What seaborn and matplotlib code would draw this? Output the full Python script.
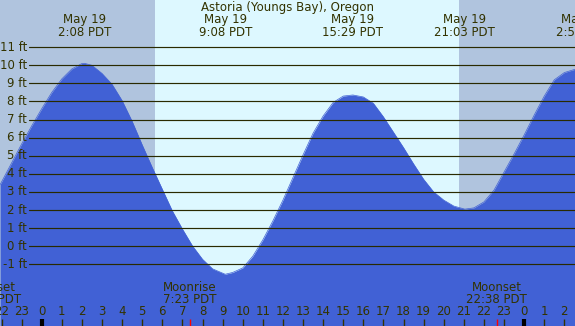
import numpy as np
import pandas as pd
import seaborn as sns
import matplotlib.pyplot as plt
import matplotlib.transforms as mtransforms

# Tide heights (ft), hours since midnight May 19 (PDT)
tide_hours = [-2.07, -2.0, -1.5, -1.0, -0.5, 0.0, 0.5, 1.0, 1.5, 2.0, 2.13,
              2.5, 3.0, 3.5, 4.0, 4.5, 5.0, 5.5, 6.0, 6.5, 7.0, 7.5, 8.0, 8.5, 9.13,
              9.5, 10.0, 10.5, 11.0, 11.5, 12.0, 12.5, 13.0, 13.5, 14.0, 14.5, 15.0, 15.48,
              16.0, 16.5, 17.0, 17.5, 18.0, 18.5, 19.0, 19.5, 20.0, 20.5, 21.05,
              21.5, 22.0, 22.5, 23.0, 23.5, 24.0, 24.5, 25.0, 25.5, 26.0, 26.53]
tide_ft = [3.4, 3.55, 4.6, 5.65, 6.65, 7.6, 8.5, 9.25, 9.8, 10.1, 10.11,
           10.0, 9.55, 8.95, 8.05, 6.9, 5.6, 4.35, 3.15, 1.95, 0.95, 0.02, -0.72, -1.25, -1.55,
           -1.45, -1.2, -0.55, 0.35, 1.4, 2.55, 3.8, 5.05, 6.25, 7.2, 7.95, 8.3, 8.36,
           8.25, 7.9, 7.15, 6.3, 5.45, 4.55, 3.7, 3.0, 2.55, 2.22, 2.05,
           2.12, 2.45, 3.1, 4.1, 5.1, 6.15, 7.25, 8.3, 9.2, 9.6, 9.78]

# High / low tide labels along the top
extreme_hours = [2.13, 9.13, 15.48, 21.05, 26.9]
extreme_dates = ["May 19", "May 19", "May 19", "May 19", "May 20"]
extreme_times = ["2:08 PDT", "9:08 PDT", "15:29 PDT", "21:03 PDT", "2:54 PDT"]

# Moon events along the bottom
moon_hours = [-2.52, 7.38, 22.63]
moon_names = ["Moonset", "Moonrise", "Moonset"]
moon_times = ["21:29 PDT", "7:23 PDT", "22:38 PDT"]

sunrise, sunset = 5.64, 20.76
ft_levels = list(range(-1, 12))
hour_ticks = list(range(-2, 27))

x_lo, x_hi = -2.075, 26.53
y_lo, y_hi = -4.41, 13.61

night = "#B0C4DE"
day = "#DDF8FF"
water = "#4161D5"
ink = "#333300"

sns.set_style("white")
plt.rcParams['font.family'] = ['DejaVu Sans']

fig = plt.figure(figsize=(5.75, 3.26), dpi=100)
ax = fig.add_axes([0, 0, 1, 1])
ax.set_xlim(x_lo, x_hi)
ax.set_ylim(y_lo, y_hi)
ax.axis("off")

ax.axvspan(x_lo, sunrise, color=night, lw=0, zorder=0)
ax.axvspan(sunrise, sunset, color=day, lw=0, zorder=0)
ax.axvspan(sunset, x_hi, color=night, lw=0, zorder=0)

df = pd.DataFrame({"hour": tide_hours, "ft": tide_ft})
ax.fill_between(df["hour"], df["ft"], y_lo, color=water, lw=0, zorder=1)
sns.lineplot(data=df, x="hour", y="ft", ax=ax, color=water, lw=0.5, zorder=1)

# horizontal ft lines with labels on the left
yax = mtransforms.blended_transform_factory(ax.transAxes, ax.transData)
for v in ft_levels:
    ax.axhline(v, xmin=29 / 575, xmax=1, color="#2a2a00", lw=0.85, zorder=2)
    ax.text(27 / 575, v, f"{v} ft", transform=yax, ha="right", va="center",
            fontsize=8.5, color=ink, zorder=3)

xax = mtransforms.blended_transform_factory(ax.transData, ax.transAxes)
ax.text(0.5, 1 - 7.5 / 326, "Astoria (Youngs Bay), Oregon", transform=ax.transAxes,
        ha="center", va="center", fontsize=8.5, color=ink)
for h, d, t in zip(extreme_hours, extreme_dates, extreme_times):
    ax.text(h, 1 - 20 / 326, d, transform=xax, ha="center", va="center",
            fontsize=8.5, color=ink)
    ax.text(h, 1 - 32 / 326, t, transform=xax, ha="center", va="center",
            fontsize=8.5, color=ink)

for h, n, t in zip(moon_hours, moon_names, moon_times):
    ax.text(h, 1 - 287.5 / 326, n, transform=xax, ha="center", va="center",
            fontsize=8.5, color=ink)
    ax.text(h, 1 - 299.5 / 326, t, transform=xax, ha="center", va="center",
            fontsize=8.5, color=ink)
    ax.vlines(h, 0, 7 / 326, transform=xax, color="red", lw=1, zorder=3)

for h in hour_ticks:
    ax.text(h, 1 - 311.5 / 326, str(h % 24), transform=xax, ha="center",
            va="center", fontsize=8.5, color=ink)
    if h % 24 == 0:
        ax.vlines(h, 0, 7 / 326, transform=xax, color="black", lw=3, zorder=3)
    else:
        ax.vlines(h, 0, 7 / 326, transform=xax, color=ink, lw=1, zorder=3)

fig.savefig("out.png", dpi=100)
